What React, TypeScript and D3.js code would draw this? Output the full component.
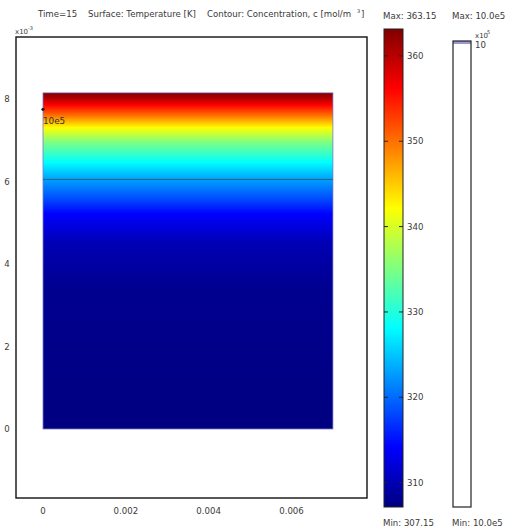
import React from "react";
import * as d3 from "d3";

// surface temperature profile along the height (x1e-3 m) -> K
const heights = [0, 3.4, 4.5, 5.2, 5.55, 6.05, 6.45, 6.95, 7.3, 7.6, 7.85, 8.0, 8.15];
const temps = [307.15, 308, 310, 314, 318, 323, 328, 335, 342, 350, 356, 360, 363.15];
const domainWidth = 7.0; // x1e-3
const contourLevel = 6.05; // height of the c = 10e5 contour (x1e-3)

const xTicks = [0, 0.002, 0.004, 0.006];
const yTicks = [0, 2, 4, 6, 8];
const cbTicks = [310, 320, 330, 340, 350, 360];
const tMin = 307.15;
const tMax = 363.15;

const jetStops = [0, 0.125, 0.375, 0.625, 0.875, 1];
const jetColors = ["#000080", "#0000ff", "#00ffff", "#ffff00", "#ff0000", "#800000"];

const font = "DejaVu Sans, Verdana, sans-serif";
const txt = "#3a3a3a";

export default function App() {
  const x = d3.scaleLinear().domain([0, 0.006]).range([43, 291.5]);
  const y = d3.scaleLinear().domain([0, 8]).range([429, 99]);
  const jet = d3.scaleLinear<string>().domain(jetStops).range(jetColors).interpolate(d3.interpolateRgb);
  const norm = d3.scaleLinear().domain([tMin, tMax]).range([0, 1]);
  const profile = d3.scaleLinear().domain(heights).range(temps).clamp(true);
  const cb = d3.scaleLinear().domain([tMin, tMax]).range([507, 29]);

  const top = y(heights[heights.length - 1]);
  const bottom = y(0);
  const rw = x(domainWidth / 1000) - x(0);
  const rows: React.ReactElement[] = [];
  for (let py = Math.floor(top); py < bottom; py++) {
    const y0 = Math.max(py, top);
    const t = profile(y.invert(y0 + 0.5));
    rows.push(
      <rect key={py} x={x(0)} y={y0} width={rw} height={Math.min(py + 1, bottom) - y0}
        fill={jet(norm(t))} shapeRendering="crispEdges" />
    );
  }

  const cbRows: React.ReactElement[] = [];
  for (let py = cb(tMax); py < cb(tMin); py++) {
    cbRows.push(<rect key={py} x={384} y={py} width={19} height={1} fill={jet(norm(cb.invert(py + 0.5)))} shapeRendering="crispEdges" />);
  }

  return (
    <svg width={510} height={528} style={{ position: "absolute", left: 0, top: 0, background: "#fff" }}
      fontFamily={font} fontSize={8.6} fill={txt}>
      <text x={38} y={17}>Time=15</text>
      <text x={88} y={17}>Surface: Temperature [K]</text>
      <text x={207} y={17}>Contour: Concentration, c [mol/m</text>
      <text x={357} y={13} fontSize={5}>3</text>
      <text x={361} y={17}>]</text>
      <text x={15} y={34} fontSize={7}>x10</text>
      <text x={28} y={30} fontSize={5}>-3</text>

      {rows}
      <rect x={x(0)} y={top} width={rw} height={bottom - top} fill="none" stroke="#7a7ac8" strokeWidth={0.8} />
      <line x1={x(0)} x2={x(domainWidth / 1000)} y1={y(contourLevel)} y2={y(contourLevel)} stroke="#226677" strokeWidth={1} />
      <circle cx={x(0)} cy={y(7.75)} r={1.6} fill="#222" />
      <text x={x(0)} y={y(7.4)} fontSize={8.8} fill="#333">10e5</text>

      <rect x={16} y={37} width={351} height={461} fill="none" stroke="#111" strokeWidth={1.4} />
      {xTicks.map((v) => (
        <text key={v} x={x(v)} y={514} textAnchor="middle">{v}</text>
      ))}
      {yTicks.map((v) => (
        <text key={v} x={7} y={y(v) + 3} textAnchor="middle">{v}</text>
      ))}

      <text x={383} y={19}>Max: 363.15</text>
      {cbRows}
      <rect x={384} y={cb(tMax)} width={19} height={cb(tMin) - cb(tMax)} fill="none" stroke="#222" strokeWidth={1} />
      {cbTicks.map((v) => (
        <g key={v}>
          <line x1={384} x2={388} y1={cb(v)} y2={cb(v)} stroke="#222" />
          <line x1={399} x2={403} y1={cb(v)} y2={cb(v)} stroke="#222" />
          <text x={407} y={cb(v) + 3}>{v}</text>
        </g>
      ))}
      <text x={383} y={526}>Min: 307.15</text>

      <text x={452} y={19}>Max: 10.0e5</text>
      <rect x={453} y={41} width={18} height={3} fill="#9a9ad0" />
      <rect x={453} y={41} width={18} height={466} fill="none" stroke="#222" strokeWidth={1.2} />
      <text x={475} y={38} fontSize={7}>x10</text>
      <text x={487} y={34} fontSize={5}>5</text>
      <text x={475} y={48}>10</text>
      <text x={452} y={526}>Min: 10.0e5</text>
    </svg>
  );
}
